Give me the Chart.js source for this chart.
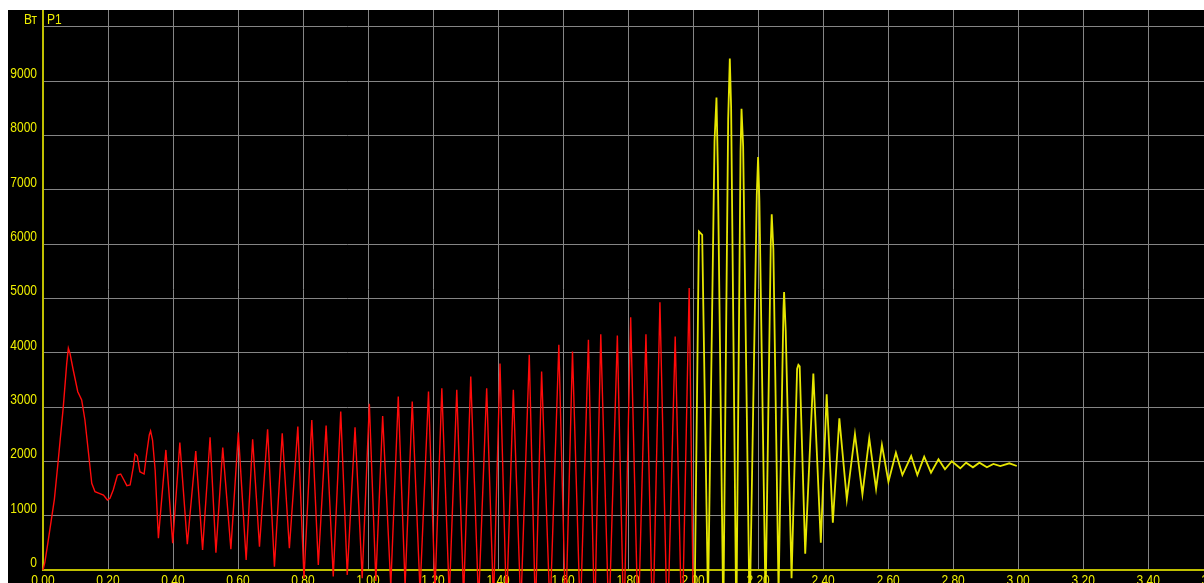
<!DOCTYPE html>
<html>
<head>
<meta charset="utf-8">
<script src="https://cdn.jsdelivr.net/npm/chart.js@4/dist/chart.umd.min.js"></script>
<style>
  html, body { margin: 0; padding: 0; background: #ffffff; overflow: hidden; width: 1204px; height: 583px; }
  #wrap { position: absolute; left: 8px; top: 10px; width: 1250px; height: 590px; background: #000000; }
  canvas { display: block; }
</style>
</head>
<body>
<div id="wrap"><canvas id="c" width="1250" height="590"></canvas></div>
<script>
// Time axis (s) and power (W) for the first phase, drawn in red
const tRed = [
  0.000, 0.006, 0.015, 0.025, 0.035, 0.047, 0.0625, 0.073, 0.078, 0.083, 0.093, 0.107, 0.119, 0.129, 0.139,
  0.150, 0.160, 0.173, 0.186, 0.198, 0.206, 0.216, 0.229, 0.239, 0.249, 0.258, 0.268, 0.278, 0.283, 0.290,
  0.298, 0.311, 0.319, 0.327, 0.331, 0.337, 0.345,
  0.355, 0.378, 0.399, 0.421, 0.444, 0.470, 0.491, 0.514, 0.532, 0.553, 0.578, 0.601, 0.625, 0.645,
  0.666, 0.691, 0.712, 0.736, 0.758, 0.784, 0.803, 0.827, 0.847, 0.871, 0.893, 0.916, 0.936, 0.960,
  0.982, 1.004, 1.024, 1.045, 1.070, 1.093, 1.114, 1.136, 1.160, 1.186, 1.206, 1.227, 1.250, 1.273,
  1.294, 1.316, 1.340, 1.365, 1.386, 1.406, 1.426, 1.447, 1.470, 1.496, 1.515, 1.534, 1.560, 1.587,
  1.608, 1.629, 1.653, 1.678, 1.697, 1.716, 1.741, 1.767, 1.787, 1.808, 1.831, 1.855, 1.876, 1.898,
  1.921, 1.945, 1.966, 1.988, 2.002
];
const pRed = [
  0, 150, 500, 900, 1300, 2025, 3006, 3804, 4083, 3988, 3681, 3282, 3129, 2761, 2209,
  1595, 1441, 1411, 1380, 1288, 1319, 1472, 1748, 1767, 1657, 1552, 1564, 1901, 2135, 2098,
  1809, 1767, 2148, 2485, 2558, 2393, 1841,
  584, 2210, 491, 2345, 473, 2190, 368, 2444, 319, 2253, 381, 2529, 184, 2406,
  429, 2591, 61, 2517, 399, 2640, -150, 2762, 92, 2658, -120, 2916, -90, 2628,
  -150, 3060, -200, 2836, -300, 3192, -300, 3100, -400, 3284, -400, 3346, -500, 3315,
  -500, 3560, -600, 3346, -600, 3800, -700, 3315, -700, 3960, -800, 3652, -800, 4144,
  -900, 4021, -900, 4236, -1000, 4341, -1000, 4315, -1100, 4653, -1100, 4341, -1200, 4930,
  -1200, 4297, -1300, 5188, -1300
];

// Second phase, drawn in yellow
const tYel = [
  2.004, 2.018, 2.028, 2.046, 2.066, 2.072, 2.076, 2.093, 2.108, 2.113, 2.117, 2.133, 2.146, 2.149,
  2.154, 2.174, 2.196, 2.200, 2.204, 2.223, 2.239, 2.242, 2.247, 2.263, 2.278, 2.280, 2.285, 2.303,
  2.320, 2.324, 2.328, 2.345, 2.370, 2.393, 2.411, 2.430, 2.450, 2.473, 2.498, 2.521, 2.542, 2.563,
  2.581, 2.601, 2.624, 2.644, 2.671, 2.690, 2.711, 2.732, 2.755, 2.775, 2.796, 2.822, 2.840, 2.861,
  2.881, 2.904, 2.924, 2.945, 2.973, 2.996
];
const pYel = [
  -1000, 6229, 6166, -600, 7900, 8694, 7440, -900, 8300, 9414, 8522, -1000, 7700, 8490,
  7800, -900, 6900, 7599, 6800, -600, 6000, 6548, 5900, -400, 4800, 5115, 4400, -150,
  3700, 3777, 3750, 300, 3618, 500, 3236, 871, 2790, 1301, 2503, 1393, 2424, 1491,
  2301, 1625, 2159, 1748, 2098, 1748, 2085, 1791, 2037, 1853, 2001, 1872, 1975, 1890,
  1975, 1890, 1951, 1914, 1964, 1914
];

// Axis ticks and their labels
const xTicks = [0, 0.2, 0.4, 0.6, 0.8, 1.0, 1.2, 1.4, 1.6, 1.8, 2.0, 2.2, 2.4, 2.6, 2.8, 3.0, 3.2, 3.4, 3.6];
const xTickLabels = ['0.00', '0.20', '0.40', '0.60', '0.80', '1.00', '1.20', '1.40', '1.60', '1.80',
  '2.00', '2.20', '2.40', '2.60', '2.80', '3.00', '3.20', '3.40', '3.60'];
const yTicks = [0, 1000, 2000, 3000, 4000, 5000, 6000, 7000, 8000, 9000, 10000];
const yTickLabels = ['0', '1000', '2000', '3000', '4000', '5000', '6000', '7000', '8000', '9000', ''];
const yUnit = 'Вт';
const seriesName = 'P1';

const X_MAX = 3.738;
const Y_MAX = 10307;

const FONT = "15px 'Liberation Sans', Arial, sans-serif";
const NARROW = 0.8;
const TEXT_COLOR = '#eeee00';
const AXIS_COLOR = '#c0c000';
const GRID_COLOR = '#858585';

const toPoints = (ts, ps) => ts.map((t, i) => ({ x: t, y: ps[i] }));

// Narrow-set text, like the instrument's condensed label font
function narrowText(ctx, text, x, y, align) {
  ctx.save();
  ctx.translate(x, y);
  ctx.scale(NARROW, 1);
  ctx.textAlign = align;
  ctx.fillText(text, 0, 0);
  ctx.restore();
}

// Tick labels placed from the chart's own scales, plus the unit / series caption
const axisLabelPlugin = {
  id: 'axisLabels',
  beforeDatasetsDraw(chart) {
    const ctx = chart.ctx;
    const area = chart.chartArea;
    const xs = chart.scales.x;
    const ys = chart.scales.y;
    ctx.save();
    ctx.font = FONT;
    ctx.fillStyle = TEXT_COLOR;
    ctx.textBaseline = 'middle';
    xTicks.forEach((v, i) => {
      narrowText(ctx, xTickLabels[i], xs.getPixelForValue(v), area.bottom + 11, 'center');
    });
    yTicks.forEach((v, i) => {
      narrowText(ctx, yTickLabels[i], area.left - 6, ys.getPixelForValue(v) - 7, 'right');
    });
    narrowText(ctx, yUnit, area.left - 6, 10, 'right');
    narrowText(ctx, seriesName, area.left + 4, 10, 'left');
    ctx.restore();
  }
};

new Chart(document.getElementById('c'), {
  type: 'line',
  data: {
    datasets: [
      { data: toPoints(tRed, pRed), borderColor: '#ff0a0a', borderWidth: 1.4, clip: false },
      { data: toPoints(tYel, pYel), borderColor: '#e6e600', borderWidth: 1.8, clip: false }
    ]
  },
  options: {
    responsive: false,
    maintainAspectRatio: false,
    animation: false,
    layout: { padding: 0 },
    elements: { point: { radius: 0 }, line: { tension: 0 } },
    plugins: { legend: { display: false }, tooltip: { enabled: false } },
    scales: {
      x: {
        type: 'linear', min: 0, max: X_MAX,
        afterBuildTicks(s) { s.ticks = xTicks.map(v => ({ value: v })); },
        afterFit(s) { s.height = 30; s.paddingLeft = 0; s.paddingRight = 0; },
        grid: { color: GRID_COLOR, lineWidth: 1, drawTicks: false },
        border: { color: AXIS_COLOR, width: 2 },
        ticks: { display: false }
      },
      y: {
        type: 'linear', min: 0, max: Y_MAX,
        afterBuildTicks(s) { s.ticks = yTicks.map(v => ({ value: v })); },
        afterFit(s) { s.width = 35; s.paddingTop = 0; s.paddingBottom = 0; },
        grid: { color: GRID_COLOR, lineWidth: 1, drawTicks: false },
        border: { color: AXIS_COLOR, width: 2 },
        ticks: { display: false }
      }
    }
  },
  plugins: [axisLabelPlugin]
});
</script>
</body>
</html>
